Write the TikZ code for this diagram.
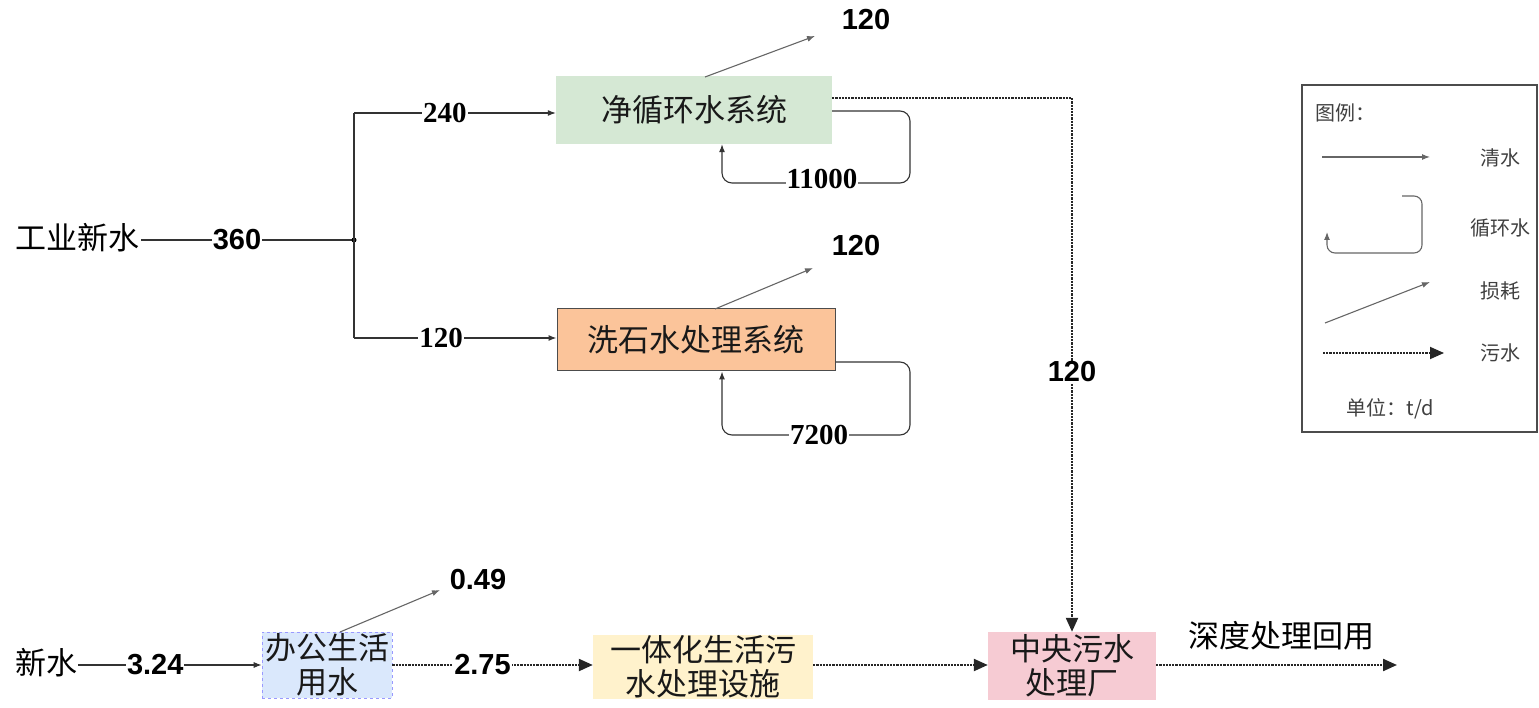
\documentclass[tikz,border=0pt]{standalone}
\usepackage{fontspec}
\setmainfont{Liberation Serif}
\newfontfamily\cjk{Noto Sans CJK SC}
\newfontfamily\numsans{Liberation Sans}
\usetikzlibrary{arrows.meta}
\definecolor{gfill}{HTML}{D5E8D4}
\definecolor{ofill}{HTML}{FBC49A}
\definecolor{bfill}{HTML}{DAE8FC}
\definecolor{yfill}{HTML}{FFF2CC}
\definecolor{pfill}{HTML}{F6CBD3}
\definecolor{lgray}{HTML}{666666}
\tikzset{
  procbox/.style={inner sep=0pt, font=\cjk\fontsize{31}{34}\selectfont, align=center, text=black!90},
  flow/.style={draw=black!80, line width=1.1pt, -{Latex[length=8pt,width=6pt]}},
  loss/.style={draw=lgray, line width=1.1pt, -{Latex[length=8pt,width=6pt]}},
  waste/.style={draw=black!85, line width=2.2pt, densely dotted, -{Triangle[length=14pt,width=12pt]}},
  wasteline/.style={draw=black!85, line width=2.2pt, densely dotted},
  numlab/.style={fill=white, inner sep=1pt, font=\bfseries\fontsize{29}{30}\selectfont},
  numsanslab/.style={fill=white, inner sep=1pt, font=\numsans\bfseries\fontsize{29}{30}\selectfont},
  plaintxt/.style={inner sep=1pt, font=\cjk\fontsize{31}{34}\selectfont},
  legtxt/.style={inner sep=0pt, font=\cjk\fontsize{20}{22}\selectfont, text=black!75},
}
\begin{document}
\begin{tikzpicture}[x=1pt,y=-1pt]
\useasboundingbox (0,0) rectangle (1539,708);

% source nodes
\node[plaintxt] (ind) at (78,238) {工业新水};
\coordinate (jn) at (354,240);
\coordinate (jt) at (354,113);
\coordinate (jb) at (354,338);

% process boxes
\node[procbox, fill=gfill, minimum width=276pt, minimum height=68pt] (g) at (694,110) {净循环水系统};
\node[procbox, fill=ofill, draw=black!70, line width=1pt, minimum width=278pt, minimum height=62pt] (o) at (696,340) {洗石水处理系统};

% feed lines
\draw[draw=black!80, line width=1.1pt] (ind.east |- jn) -- node[numsanslab, pos=0.45]{360} (jn);
\fill[black] (jn) circle (2.5pt);
\draw[draw=black!80, line width=1.1pt] (jt) -- (jb);
\draw[flow] (jt) -- node[numlab, pos=0.45]{240} (jt -| g.west);
\draw[flow] (jb) -- node[numlab, pos=0.43]{120} (jb -| o.west);

% losses
\coordinate (gl) at (705,77);
\coordinate (glend) at (815,36);
\draw[loss] (gl) -- (glend);
\node[inner sep=1pt, font=\numsans\bfseries\fontsize{29}{30}\selectfont] (g120) at (866,20) {120};
\coordinate (ol) at (715,309);
\coordinate (olend) at (813,268);
\draw[loss] (ol) -- (olend);
\node[inner sep=1pt, font=\numsans\bfseries\fontsize{29}{30}\selectfont] (o120) at (856,246) {120};

% recirculation loops
\coordinate (gr) at (722,183);
\coordinate (orr) at (722,435);
\draw[flow, rounded corners=10pt] (g.east |- 0,111) -- (910,111) -- (910,183) -- (gr) -- (gr |- g.south);
\node[numlab] (n11000) at (822,179) {11000};
\draw[flow, rounded corners=10pt] (o.east |- 0,362) -- (910,362) -- (910,435) -- (orr) -- (orr |- o.south);
\node[numlab] (n7200) at (819,435) {7200};

% bottom row
\node[plaintxt] (nw) at (46,663) {新水};
\node[procbox, fill=bfill, draw=blue!40, dashed, line width=0.6pt, minimum width=130pt, minimum height=66pt] (b) at (327,665) {办公生活\\用水};
\node[procbox, fill=yfill, minimum width=220pt, minimum height=64pt] (y) at (703,667) {一体化生活污\\水处理设施};
\node[procbox, fill=pfill, minimum width=168pt, minimum height=68pt] (p) at (1072,666) {中央污水\\处理厂};
\coordinate (reuse) at (1397,665);
\node[plaintxt] (reusetxt) at (1281,636) {深度处理回用};

\draw[flow] (nw.east |- 0,665) -- node[numsanslab, pos=0.42]{3.24} (b.west |- 0,665);
\coordinate (bl) at (340,632);
\coordinate (blend) at (440,590);
\draw[loss] (bl) -- (blend);
\node[inner sep=1pt, font=\numsans\bfseries\fontsize{29}{30}\selectfont] (b049) at (478,580) {0.49};
\draw[waste] (b.east |- 0,665) -- node[numsanslab, pos=0.45]{2.75} (y.west |- 0,665);
\draw[waste] (y.east |- 0,665) -- (p.west |- 0,665);
\draw[waste] (p.east |- 0,665) -- (reuse);

% dotted from green box to central plant
\draw[wasteline] (g.east |- 0,98) -- (1072,98) -- (1072,320);
\draw[waste] (1072,320) -- (p.north);
\node[numsanslab] (v120) at (1072,372) {120};

% legend
\node[draw=black!70, line width=1.2pt, minimum width=235pt, minimum height=347pt, inner sep=0pt] (leg) at (1419.5,258.5) {};
\node[legtxt, anchor=west] (legt) at (1315,113) {图例：};
\coordinate (l1a) at (1322,157);
\coordinate (l1b) at (1430,157);
\draw[loss] (l1a) -- (l1b);
\node[legtxt] (l1t) at (1500,158) {清水};
\draw[flow, draw=lgray, rounded corners=8pt] (1402,196) -- (1422,196) -- (1422,253) -- (1327,253) -- (1327,232);
\node[legtxt] (l2t) at (1500,228) {循环水};
\node[legtxt] (l3t) at (1500,291) {损耗};
\draw[loss] (1325,323) -- (1430,282);
\draw[waste, line width=1.8pt] (1323,353) -- (1444,353);
\node[legtxt] (l4t) at (1500,353) {污水};
\node[legtxt] (unit) at (1390,409) {单位：t/d};
\end{tikzpicture}
\end{document}
